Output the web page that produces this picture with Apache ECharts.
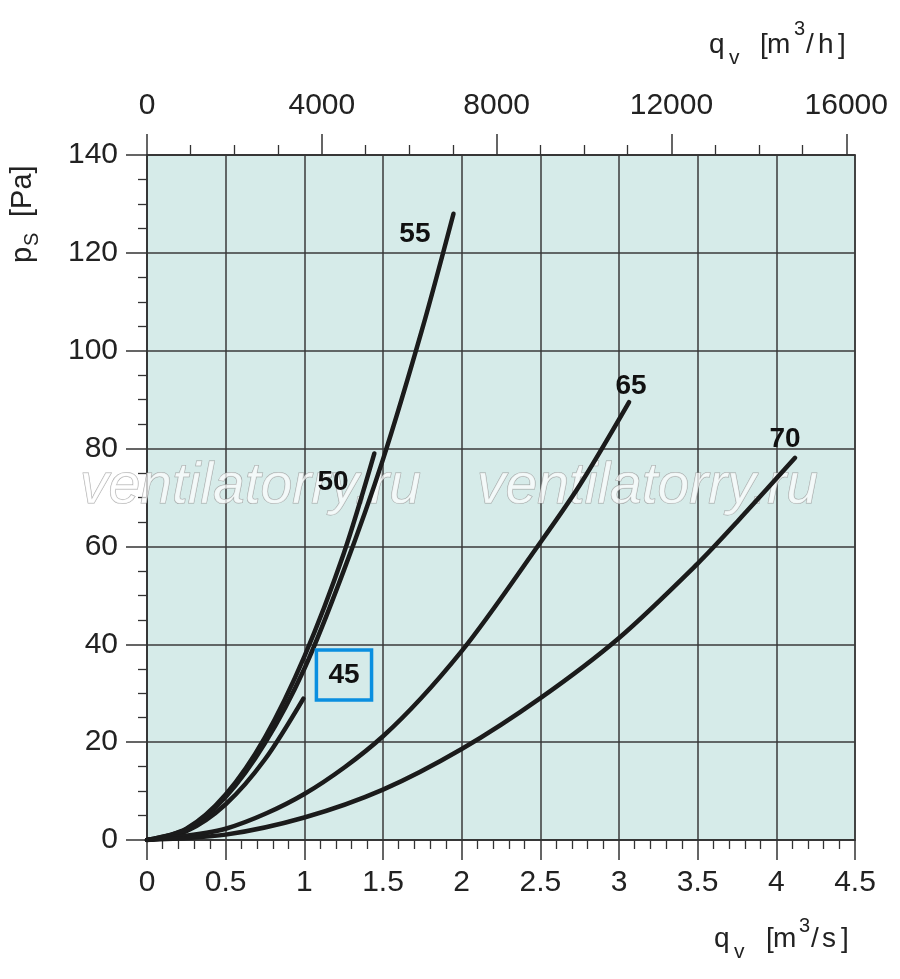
<!DOCTYPE html>
<html>
<head>
<meta charset="utf-8">
<script src="https://cdn.jsdelivr.net/npm/echarts@6/dist/echarts.min.js"></script>
<style>
html,body{margin:0;padding:0;background:#fff;}
#chart{width:900px;height:979px;}
</style>
</head>
<body>
<div id="chart"></div>
<script>
// ---- data ----
const qTicks = [0, 0.5, 1, 1.5, 2, 2.5, 3, 3.5, 4, 4.5];
const pTicks = [0, 20, 40, 60, 80, 100, 120, 140];
const qhTicks = [0, 4000, 8000, 12000, 16000];
const qhMinorTicks = [1000, 2000, 3000, 5000, 6000, 7000, 9000, 10000, 11000, 13000, 14000, 15000];

const curve45 = [[0,0],[0.25,1.8],[0.5,7.3],[0.75,16.5],[0.994,28.9]];
const curve50 = [[0,0],[0.25,2.3],[0.5,9.3],[0.75,21],[1.0,37.5],[1.25,58.5],[1.445,79]];
const curve55 = [[0,0],[0.25,2.2],[0.5,8.8],[0.75,19.8],[1.0,35],[1.25,55],[1.5,77.8],[1.75,104.5],[1.948,128]];
const curve65 = [[0,0],[0.5,2.3],[1.0,9.4],[1.5,21.2],[2.0,38.6],[2.5,60.8],[2.75,72.5],[3.064,89.5]];
const curve70 = [[0,0],[0.5,1.1],[1.0,4.6],[1.5,10.3],[2.0,18.6],[2.5,29.0],[3.0,41.3],[3.5,56.5],[3.75,65],[4.119,78.1]];

const labelNames = ['45', '50', '55', '65', '70'];
const labelQ = [1.252, 1.182, 1.703, 3.076, 4.055];
const labelP = [33.7, 73.1, 123.8, 92.7, 81.9];

// ---- chart ----
const FONT = "'Liberation Sans', Arial, sans-serif";
const chart = echarts.init(document.getElementById('chart'), null, {renderer: 'canvas'});

const curveStyle = {color: '#1b1b1b', width: 4.5, cap: 'round'};
function curveSeries(name, data) {
  return {
    name: name, type: 'line', xAxisIndex: 0, yAxisIndex: 0,
    data: data, smooth: 0.3, showSymbol: false, symbol: 'none',
    lineStyle: curveStyle, z: 3, silent: true
  };
}

const labelData = labelNames.map((n, i) => {
  const item = {name: n, value: [labelQ[i], labelP[i]]};
  if (n === '45') {
    item.label = {borderColor: '#0a8fe0', borderWidth: 3.5, padding: [12, 12, 10, 12]};
  }
  return item;
});

const axisTextStyle = {fontFamily: FONT, fontSize: 30, color: '#222'};
const lineCol = '#333';

function txt(text, x, y, size, extra) {
  return Object.assign({
    type: 'text', x: x, y: y,
    style: {text: text, font: size + 'px ' + FONT, fill: '#222', textVerticalAlign: 'middle'}
  }, extra || {});
}
function wm(x) {
  return {type: 'text', x: x, y: 487, z: 1, silent: true,
    style: {text: 'ventilatorry.ru', font: 'italic 57px ' + FONT, fill: 'rgba(255,255,255,0.7)',
            stroke: 'rgba(140,140,140,0.75)', lineWidth: 1, textVerticalAlign: 'middle'}};
}

const option = {
  animation: false,
  backgroundColor: '#ffffff',
  grid: {
    left: 147, right: 45, top: 155, bottom: 139,
    show: true, backgroundColor: '#d6ebe9', borderColor: lineCol, borderWidth: 1.5
  },
  xAxis: [
    {
      type: 'value', position: 'bottom', min: 0, max: 4.5, interval: 0.5,
      axisLine: {show: true, lineStyle: {color: lineCol, width: 1.5}},
      axisTick: {show: true, length: 20, lineStyle: {color: lineCol, width: 1.5}},
      minorTick: {show: true, splitNumber: 5, length: 9, lineStyle: {color: lineCol, width: 1.3}},
      splitLine: {show: true, lineStyle: {color: '#3a3a3a', width: 1.5}},
      axisLabel: Object.assign({margin: 28, customValues: qTicks, formatter: v => String(v)}, axisTextStyle)
    },
    {
      type: 'value', position: 'top', min: 0, max: 16200,
      axisLine: {show: true, lineStyle: {color: lineCol, width: 1.5}},
      axisTick: {show: true, length: 21, customValues: qhTicks, lineStyle: {color: lineCol, width: 1.5}},
      splitLine: {show: false},
      axisLabel: Object.assign({margin: 34, customValues: qhTicks, formatter: v => String(v)}, axisTextStyle)
    },
    {
      type: 'value', position: 'top', min: 0, max: 16200,
      axisLine: {show: false},
      axisTick: {show: true, length: 10, customValues: qhMinorTicks, lineStyle: {color: lineCol, width: 1.3}},
      splitLine: {show: false},
      axisLabel: {show: false}
    }
  ],
  yAxis: [{
    type: 'value', min: 0, max: 140, interval: 20,
    axisLine: {show: true, lineStyle: {color: lineCol, width: 1.5}},
    axisTick: {show: true, length: 21, lineStyle: {color: lineCol, width: 1.5}},
    minorTick: {show: true, splitNumber: 4, length: 9, lineStyle: {color: lineCol, width: 1.3}},
    splitLine: {show: true, lineStyle: {color: '#3a3a3a', width: 1.5}},
    axisLabel: Object.assign({margin: 29, customValues: pTicks, formatter: v => String(v)}, axisTextStyle)
  }],
  graphic: [
    // watermark
    wm(80), wm(477),
    // bottom axis name
    txt('q', 714, 939, 28),
    txt('v', 734, 952, 21),
    txt('[', 766, 939, 28),
    txt('m', 773, 939, 28),
    txt('3', 799, 926, 20),
    txt('/', 811, 939, 28),
    txt('s', 822, 939, 28),
    txt(']', 841, 939, 28),
    // top axis name
    txt('q', 709, 45, 28),
    txt('v', 729, 58, 21),
    txt('[', 760, 45, 28),
    txt('m', 767, 45, 28),
    txt('3', 794, 29, 20),
    txt('/', 806, 45, 28),
    txt('h', 818, 45, 28),
    txt(']', 838, 45, 28),
    // y axis name (rotated)
    {type: 'group', x: 32, y: 263, rotation: Math.PI / 2, children: [
      txt('p', 0, -9, 29),
      txt('S', 17, 0, 20),
      txt('[Pa]', 46, -9, 29)
    ]}
  ],
  series: [
    curveSeries('45', curve45),
    curveSeries('50', curve50),
    curveSeries('55', curve55),
    curveSeries('65', curve65),
    curveSeries('70', curve70),
    {
      type: 'scatter', xAxisIndex: 0, yAxisIndex: 0, symbolSize: 0.01,
      itemStyle: {color: '#1a1a1a', opacity: 1}, z: 4, silent: true,
      data: labelData,
      label: {show: true, position: 'inside', formatter: p => p.name, opacity: 1,
              fontFamily: FONT, fontWeight: 'bold', fontSize: 28, color: '#111'}
    }
  ]
};
chart.setOption(option);
</script>
</body>
</html>
